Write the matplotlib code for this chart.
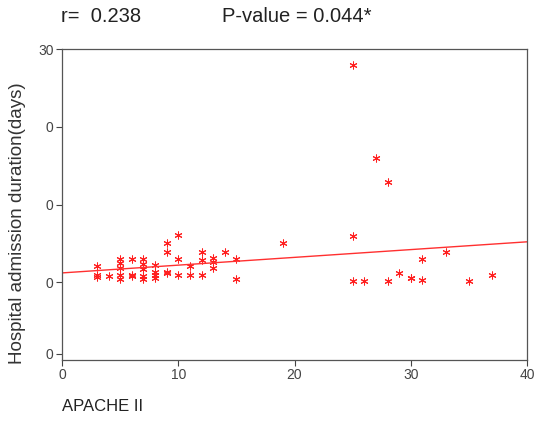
import matplotlib.pyplot as plt
import numpy as np

# APACHE II score vs hospital admission duration
apache = [3, 3, 3, 4, 5, 5, 5, 5, 5, 6, 6, 6, 7, 7, 7, 7, 7, 8, 8, 8, 8,
          9, 9, 9, 9, 10, 10, 10, 11, 11, 12, 12, 12, 13, 13, 13, 14, 15, 15,
          19, 25, 25, 25, 26, 27, 28, 28, 29, 30, 30, 31, 31, 33, 35, 37]
duration = [12.1, 10.9, 10.7, 10.8, 13.0, 12.5, 11.8, 10.9, 10.4, 13.0, 10.9, 10.8,
            13.0, 12.35, 11.7, 10.8, 10.4, 12.2, 11.3, 10.9, 10.55,
            15.1, 13.9, 11.3, 11.2, 16.1, 13.0, 10.9, 12.1, 10.9, 13.9, 12.9, 10.9,
            13.1, 12.6, 11.8, 13.9, 13.0, 10.4,
            15.0, 38.0, 16.0, 10.2, 10.2, 26.0, 22.9, 10.2, 11.2, 10.5, 10.5,
            13.0, 10.3, 13.9, 10.1, 10.9]

# fitted line as drawn in the original
fit_intercept = 11.2
fit_slope = 0.1

x_ticks = [0, 10, 20, 30, 40]
y_ticks = [0.8, 10, 20, 30, 40]
y_tick_labels = ['0', '0', '0', '0', '30']

plt.rcParams['font.family'] = ['Liberation Sans', 'DejaVu Sans']

fig = plt.figure(figsize=(5.36, 4.23), dpi=100)
ax = fig.add_axes([62 / 536, 1 - 360 / 423, 465 / 536, 311 / 423])

ax.scatter(apache, duration, marker=(6, 2, 0), s=26, color='#ff2020', linewidths=0.75)

xs = np.array([0, 40])
ax.plot(xs, fit_intercept + fit_slope * xs, color='#ff3030', linewidth=1)

ax.set_xlim(0, 40)
ax.set_ylim(0, 40)
ax.set_xticks(x_ticks)
ax.set_yticks(y_ticks)
ax.set_yticklabels(y_tick_labels)
ax.tick_params(colors='#444444', labelsize=10, length=4, width=0.8, pad=2)
for s in ax.spines.values():
    s.set_color('#555555')
    s.set_linewidth(0.9)

fig.text(101 / 536, 1 - 17 / 423, 'r=  0.238', fontsize=14.5, color='#222222',
         ha='center', va='center')
fig.text(222 / 536, 1 - 17 / 423, 'P-value = 0.044*', fontsize=14.5, color='#222222', va='center')
fig.text(18 / 536, 1 - 223 / 423, 'Hospital admission duration(days)', fontsize=13.5,
         color='#333333', rotation=90, ha='center', va='center')
fig.text(62 / 536, 1 - 406 / 423, 'APACHE II', fontsize=12, color='#222222', va='center')

fig.savefig('out.png', dpi=100)
